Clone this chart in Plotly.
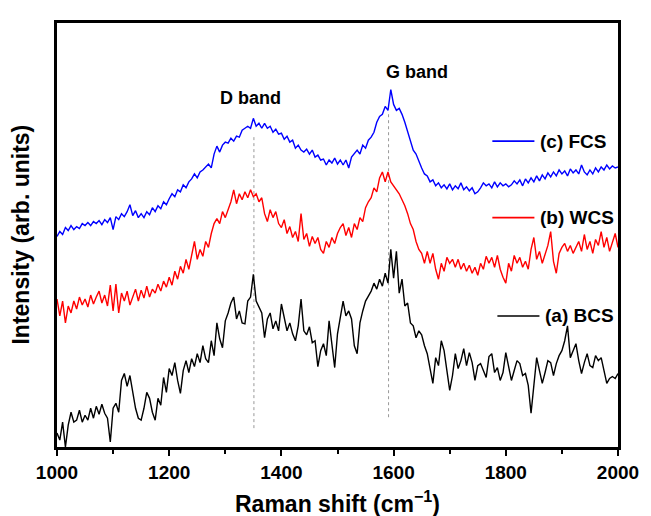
import plotly.graph_objects as go

# Raman shift sampling grid (cm^-1), every 5 cm^-1
shift = list(range(1000, 2001, 5))

# (c) FCS intensities (arb. units)
fcs = [
    215, 220, 217, 224, 221, 226, 222, 225, 223, 228,
    226, 229, 226, 230, 228, 231, 227, 232, 229, 234,
    222, 235, 232, 238, 235, 240, 247, 236, 241, 234,
    238, 234, 240, 237, 244, 240, 246, 243, 250, 247,
    253, 258, 255, 262, 260, 267, 264, 270, 273, 278,
    274, 280, 282, 285, 288, 284, 298, 306, 300, 307,
    310, 309, 314, 311, 316, 315, 322, 324, 326, 324,
    334, 326, 329, 324, 329, 324, 326, 320, 323, 318,
    319, 313, 316, 310, 312, 304, 307, 302, 300, 303,
    298, 302, 295, 297, 292, 293, 287, 292, 289, 294,
    288, 292, 287, 292, 284, 295, 298, 302, 298, 307,
    304, 312, 315, 320, 330, 336, 338, 346, 342, 363,
    348, 342, 344, 338, 330, 320, 312, 302, 298, 290,
    284, 278, 276, 270, 272, 266, 269, 264, 267, 263,
    268, 262, 266, 263, 269, 262, 265, 261, 264, 258,
    260, 264, 269, 266, 268, 264, 270, 265, 269, 266,
    268, 265, 267, 271, 268, 272, 266, 273, 269, 274,
    270, 276, 271, 277, 273, 279, 275, 280, 276, 282,
    278, 281, 276, 283, 279, 282, 278, 287, 280, 277,
    282, 278, 284, 280, 285, 282, 287, 283, 286, 284,
    285,
]

# (b) WCS intensities (arb. units)
wcs = [
    152, 135, 150, 128, 145, 138, 150, 142, 154, 146,
    152, 144, 156, 147, 154, 160, 148, 156, 145, 166,
    140, 167, 138, 158, 150, 160, 146, 154, 162, 150,
    161, 153, 165, 154, 162, 158, 167, 160, 170, 164,
    174, 166, 180, 172, 185, 178, 192, 182, 198, 210,
    192, 202, 195, 210, 204, 218, 228, 233, 228, 240,
    234, 242, 250, 262, 248, 258, 252, 260, 254, 262,
    255, 258, 250, 254, 238, 230, 242, 234, 240, 228,
    224, 232, 218, 225, 214, 220, 210, 238, 212, 218,
    205, 215, 208, 214, 202, 198, 210, 204, 214, 208,
    218, 224, 228, 216, 224, 214, 228, 222, 234, 230,
    244, 250, 254, 264, 260, 274, 280, 270, 280, 270,
    266, 262, 258, 252, 246, 238, 228, 222, 210, 202,
    198, 188, 200, 188, 198, 182, 172, 188, 180, 194,
    188, 192, 184, 192, 182, 188, 180, 186, 178, 184,
    176, 188, 182, 195, 188, 194, 184, 196, 182, 174,
    168, 188, 180, 196, 188, 194, 184, 190, 182, 202,
    214, 192, 200, 188, 198, 206, 220, 190, 178, 198,
    204, 208, 200, 206, 198, 204, 210, 200, 217, 202,
    210, 198, 212, 206, 220, 204, 214, 200, 210, 218,
    204,
]

# (a) BCS intensities (arb. units)
bcs = [
    17, 10, 28, 3, 25, 38, 28, 30, 40, 28,
    35, 30, 42, 32, 44, 36, 46, 37, 32, 8,
    42, 47, 38, 70, 77, 64, 75, 58, 42, 32,
    30, 42, 58, 52, 38, 30, 52, 45, 73, 58,
    82, 75, 88, 70, 57, 80, 90, 78, 92, 84,
    97, 88, 105, 92, 88, 110, 95, 128, 112, 103,
    130, 138, 148, 154, 132, 140, 128, 127, 150, 154,
    177, 150, 144, 138, 113, 132, 138, 122, 130, 120,
    147, 132, 120, 128, 117, 110, 125, 152, 120, 116,
    124, 108, 110, 84, 100, 107, 95, 130, 105, 83,
    117, 132, 150, 135, 140, 132, 105, 97, 128, 140,
    150, 155, 160, 168, 162, 172, 165, 178, 168, 202,
    173, 200, 158, 172, 145, 148, 128, 125, 113, 120,
    116, 105, 97, 82, 67, 93, 85, 110, 100, 80,
    60, 75, 97, 82, 90, 102, 85, 98, 88, 70,
    85, 87, 80, 73, 94, 97, 78, 83, 70, 78,
    98, 85, 70, 80, 90, 87, 75, 77, 65, 37,
    68, 93, 80, 67, 78, 90, 88, 75, 87, 95,
    100, 110, 125, 93, 100, 107, 90, 77, 88, 97,
    85, 83, 95, 90, 93, 80, 67, 72, 74, 72,
    77,
]

series_names = ["(a) BCS", "(b) WCS", "(c) FCS"]
series_colors = ["#000000", "#FF0000", "#0000FF"]
band_names = ["D band", "G band"]
band_positions = [1351, 1591]
x_tick_values = [1000, 1200, 1400, 1600, 1800, 2000]
x_tick_labels = ["1000", "1200", "1400", "1600", "1800", "2000"]

FONT = "Liberation Sans, Arial, sans-serif"

fig = go.Figure()
for name, ys, col in zip(series_names, [bcs, wcs, fcs], series_colors):
    fig.add_trace(go.Scatter(x=shift[:len(ys)], y=ys, mode="lines", name=name,
                             line=dict(color=col, width=1.4), showlegend=False))

# dotted band markers
band_spans = [(22, 318), (33, 340)]
for xb, (y0, y1) in zip(band_positions, band_spans):
    fig.add_shape(type="line", xref="x", yref="y", x0=xb, x1=xb, y0=y0, y1=y1,
                  line=dict(color="#999999", width=1, dash="dot"), layer="below")

# band labels
band_label_pos = [(1345, 354), (1641, 381)]
for txt, (xa, ya) in zip(band_names, band_label_pos):
    fig.add_annotation(x=xa, y=ya, xref="x", yref="y", text="<b>" + txt + "</b>",
                       showarrow=False, font=dict(family=FONT, size=18, color="black"))

# inline legend entries
legend_rows = [(311, 1776, 1851, 1858), (234, 1776, 1851, 1858), (135, 1785, 1860, 1867)]
for (yl, xa, xb, xt), name, col in zip(legend_rows, ["(c) FCS", "(b) WCS", "(a) BCS"],
                                       ["#0000FF", "#FF0000", "#000000"]):
    fig.add_shape(type="line", xref="x", yref="y", x0=xa, x1=xb, y0=yl, y1=yl,
                  line=dict(color=col, width=1.6))
    fig.add_annotation(x=xt, y=yl, xref="x", yref="y", text="<b>" + name + "</b>",
                       xanchor="left", yanchor="middle", showarrow=False,
                       font=dict(family=FONT, size=19, color="black"))

# axis titles
fig.add_annotation(x=0.5, y=-0.129, xref="paper", yref="paper",
                   text="<b>Raman shift (cm<sup>\u22121</sup>)</b>", showarrow=False,
                   xanchor="center", yanchor="middle",
                   font=dict(family=FONT, size=23, color="black"))
fig.add_annotation(x=-0.065, y=0.5, xref="paper", yref="paper",
                   text="<b>Intensity (arb. units)</b>", showarrow=False, textangle=-90,
                   xanchor="center", yanchor="middle",
                   font=dict(family=FONT, size=23, color="black"))

fig.update_layout(
    width=643, height=508,
    margin=dict(l=49, r=23, t=12, b=69),
    paper_bgcolor="white", plot_bgcolor="white",
    font=dict(family=FONT, color="black"),
    xaxis=dict(range=[1000, 2000], showline=True, linecolor="black", linewidth=2.5,
               mirror=True, ticks="outside", ticklen=6, tickwidth=2, tickcolor="black",
               tickvals=x_tick_values, ticktext=x_tick_labels,
               tickfont=dict(family=FONT, size=19, color="black", weight="bold"),
               minor=dict(dtick=100, tick0=1000, ticks="outside", ticklen=4, tickwidth=2,
                          tickcolor="black"),
               showgrid=False, zeroline=False),
    yaxis=dict(range=[3, 430], showline=True, linecolor="black", linewidth=2.5,
               mirror=True, ticks="", showticklabels=False, showgrid=False, zeroline=False),
)

fig.write_html("out.html")
